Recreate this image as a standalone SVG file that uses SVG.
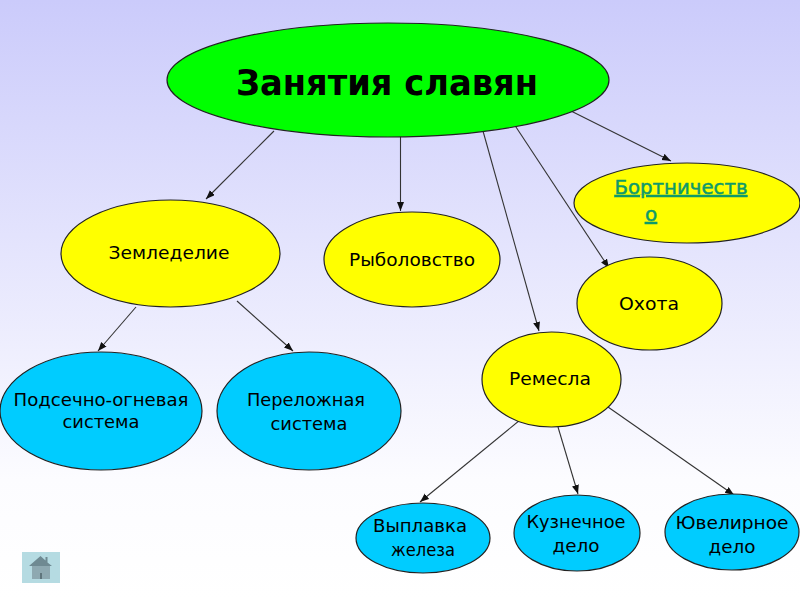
<svg xmlns="http://www.w3.org/2000/svg" width="800" height="600" viewBox="0 0 800 600">
<style>
text{font-family:"DejaVu Sans","Noto Sans",sans-serif;fill:#000;font-size:18px;text-anchor:middle}
.n{stroke:#222;stroke-width:1.2}
.y{fill:#ffff00}.b{fill:#00ccff}
.c line{stroke:#333;stroke-width:1.1;marker-end:url(#a)}
.l{fill:#0f9a6a;stroke:#0f9a6a;stroke-width:0.5;font-size:20px;text-decoration:underline}
</style>
<defs>
<linearGradient id="bg" x1="0" y1="0" x2="0" y2="1"><stop offset="0" stop-color="#cbcbfb"/><stop offset="0.8" stop-color="#fcfcff"/><stop offset="1" stop-color="#ffffff"/></linearGradient>
<marker id="a" markerUnits="userSpaceOnUse" markerWidth="10" markerHeight="8" refX="9" refY="3.500" orient="auto"><path d="M0 0L9 3.500L0 7z" fill="#111"/></marker>
</defs>
<rect width="800" height="600" fill="url(#bg)"/>
<g id="connectors" class="c">
<line x1="274" y1="131" x2="206" y2="199"/>
<line x1="400.500" y1="136" x2="400.500" y2="211"/>
<line x1="483" y1="131" x2="539" y2="331"/>
<line x1="514" y1="124" x2="609" y2="268"/>
<line x1="571" y1="111" x2="671" y2="161"/>
<line x1="136" y1="307" x2="98" y2="351"/>
<line x1="237" y1="301" x2="293" y2="351"/>
<line x1="520" y1="420" x2="420" y2="502"/>
<line x1="558" y1="427" x2="578" y2="494"/>
<line x1="608" y1="407" x2="734" y2="495"/>
</g>
<g id="root"><ellipse class="n" cx="388" cy="80" rx="221" ry="57" fill="#00ff00"/><text x="387" y="95" style="font-size:36px;font-weight:700" textLength="302" lengthAdjust="spacingAndGlyphs">Занятия славян</text></g>
<g id="zemledelie"><ellipse class="n y" cx="170.500" cy="253.500" rx="109.500" ry="53.500"/><text x="169" y="259" textLength="121" lengthAdjust="spacingAndGlyphs">Земледелие</text></g>
<g id="rybolovstvo"><ellipse class="n y" cx="412" cy="259.500" rx="88" ry="47.500"/><text x="412" y="266" textLength="126" lengthAdjust="spacingAndGlyphs">Рыболовство</text></g>
<g id="bortnichestvo"><ellipse class="n y" cx="687" cy="203" rx="113" ry="40"/><text x="681" y="194" class="l" textLength="133" lengthAdjust="spacingAndGlyphs">Бортничеств</text><text x="651" y="221" class="l">о</text></g>
<g id="ohota"><ellipse class="n y" cx="649.500" cy="303.500" rx="72.500" ry="46.500"/><text x="649" y="310" textLength="60" lengthAdjust="spacingAndGlyphs">Охота</text></g>
<g id="remesla"><ellipse class="n y" cx="551.500" cy="379.500" rx="69.500" ry="47.500"/><text x="550" y="385" textLength="82" lengthAdjust="spacingAndGlyphs">Ремесла</text></g>
<g id="podsechno"><ellipse class="n b" cx="101" cy="411" rx="101" ry="59"/><text x="101" y="406" style="font-size:17px" textLength="175" lengthAdjust="spacingAndGlyphs">Подсечно-огневая</text><text x="101" y="428" style="font-size:17px" textLength="77" lengthAdjust="spacingAndGlyphs">система</text></g>
<g id="perelozhnaya"><ellipse class="n b" cx="309" cy="411" rx="92" ry="59"/><text x="306" y="406" textLength="118" lengthAdjust="spacingAndGlyphs">Переложная</text><text x="309" y="430" textLength="77" lengthAdjust="spacingAndGlyphs">система</text></g>
<g id="vyplavka"><ellipse class="n b" cx="423" cy="538" rx="67" ry="35"/><text x="420" y="532" textLength="94" lengthAdjust="spacingAndGlyphs">Выплавка</text><text x="423" y="556" textLength="64" lengthAdjust="spacingAndGlyphs">железа</text></g>
<g id="kuznechnoe"><ellipse class="n b" cx="577" cy="533" rx="63" ry="38"/><text x="576" y="528" style="font-size:17px" textLength="99" lengthAdjust="spacingAndGlyphs">Кузнечное</text><text x="576" y="552" style="font-size:17px" textLength="47" lengthAdjust="spacingAndGlyphs">дело</text></g>
<g id="yuvelirnoe"><ellipse class="n b" cx="732" cy="532" rx="67" ry="38"/><text x="732" y="529" textLength="113" lengthAdjust="spacingAndGlyphs">Ювелирное</text><text x="732" y="553" textLength="47" lengthAdjust="spacingAndGlyphs">дело</text></g>
<g id="home"><rect x="22" y="552" width="38" height="31" fill="#b5dbe2"/><path d="M29 566L40.500 556L45.500 560.500V557H47.500V562.500L52 566z" fill="#6f8a92"/><rect x="32" y="566" width="18" height="13" fill="#8ea9b1"/><rect x="40" y="573" width="2" height="6" fill="#5f757c"/></g>
</svg>
